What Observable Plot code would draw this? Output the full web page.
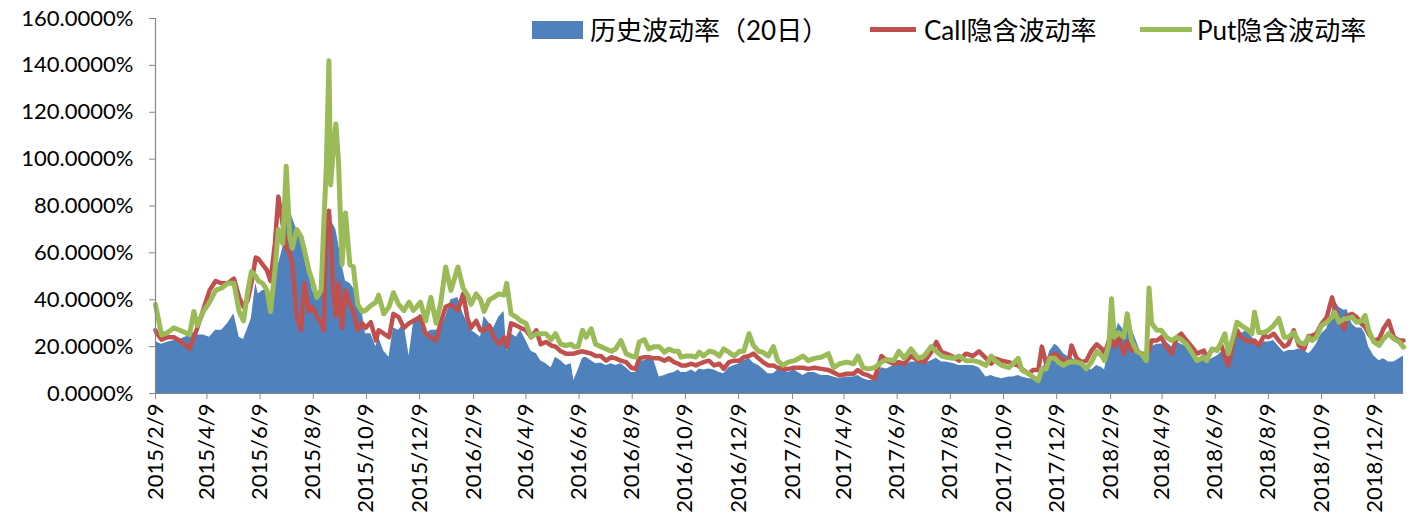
<!DOCTYPE html>
<html>
<head>
<meta charset="utf-8">
<script src="https://cdn.jsdelivr.net/npm/d3@7"></script>
<script src="https://cdn.jsdelivr.net/npm/@observablehq/plot@0.6"></script>
<style>
  html, body { margin: 0; padding: 0; background: #fff; }
  #wrap { position: relative; width: 1413px; height: 529px; overflow: hidden; font-family: Lato, "Noto Sans CJK SC", sans-serif; }
  .lg { position: absolute; }
  .lgt { position: absolute; top: 15px; font-size: 26px; line-height: 30px; color: #000; white-space: nowrap; }
</style>
</head>
<body>
<div id="wrap"></div>
<script>
// ---- data (values in %, days since 2015-02-09) ----
const seriesNames = ["历史波动率（20日）", "Call隐含波动率", "Put隐含波动率"];
const tickLabels = ["2015/2/9","2015/4/9","2015/6/9","2015/8/9","2015/10/9","2015/12/9",
  "2016/2/9","2016/4/9","2016/6/9","2016/8/9","2016/10/9","2016/12/9",
  "2017/2/9","2017/4/9","2017/6/9","2017/8/9","2017/10/9","2017/12/9",
  "2018/2/9","2018/4/9","2018/6/9","2018/8/9","2018/10/9","2018/12/9"];
const yTicks = [0, 20, 40, 60, 80, 100, 120, 140, 160];
const startDate = "2015/2/9";
const endDay = 1432;

const days = [
  0,1,7,14,21,28,34,39,44,48,55,62,69,76,83,90,96,101,106,110,115,
  118,123,128,132,137,141,146,150,154,157,162,167,171,176,180,185,190,193,196,199,201,204,207,210,214,218,223,227,232,237,
  241,247,253,256,262,268,273,279,285,291,296,304,310,316,322,327,333,339,347,353,
  358,362,368,373,377,383,388,394,400,403,408,414,419,425,431,437,442,448,454,459,465,471,
  477,480,485,490,494,500,505,511,517,523,528,534,540,546,551,555,561,566,572,578,584,589,595,
  600,603,609,615,620,624,629,635,641,647,652,658,664,670,675,681,686,692,697,703,709,714,720,
  726,733,743,749,756,764,772,778,785,793,801,806,812,818,825,833,839,
  847,853,859,867,875,882,890,896,902,907,916,922,930,938,945,953,
  959,963,971,979,984,990,994,1002,1007,1013,1017,1022,1026,1032,1036,1042,1048,1051,1057,1063,1068,1074,1080,
  1086,1089,1094,1097,1100,1105,1111,1115,1120,1126,1131,1137,1140,1143,1149,1154,1160,1166,1172,1177,1183,1189,1195,1203,
  1206,1212,1218,1223,1227,1231,1237,1241,1246,1252,1258,1261,1266,1272,1277,1283,1289,1295,1300,1306,1312,1318,
  1323,1327,1332,1338,1344,1350,1353,1358,1364,1367,1373,1378,1384,1388,1392,1398,1404,1409,1415,1421,1427,1432
];

const hist = [
  22,22,21,22,22.5,23,24,25,26,25,25,24,27,27,30,34,24,23,28,32,47,
  42.5,44,44,42.5,50,55,62,79.5,79.5,75,70,65,62,54,44,41,44,54,72,75,74,72,70,64,55,48,47,45,42.5,35,
  25.5,25.5,20,24,18,15.5,28,27,30,16,30,34,25.5,27,27,28,32.6,40,41,34,
  30,27,25.5,24,33,30,28,32.6,35,18,25.5,24,27,22.6,18,17,14,12.7,11,15.5,14,12,
  12.7,5.5,10,15,15.5,14,12.7,13,12,12.7,12,12.7,11,9,9,14,14,15,14,7,7.7,8.4,9,
  10,9,9,10,9,10.5,10,10.5,10,9,8.4,11,12,12.7,14,15,13,12,10.5,8.4,8.4,10,10,
  9,10,7.7,9,9,7.7,7.7,7,6.3,7,7,7.7,6.3,5.5,5.5,11,10.5,
  12,12.7,12,13.4,13.4,12.7,14,15,13.4,13.4,12.7,12,12,12,11,7,
  7.7,7,6.3,7,7,7.7,7,6.3,6.3,5.5,11,12.7,18,21,20,17,15.5,15,14,13.4,11,10,12,
  11,10,20,22,24,30,27,31,28,22,17,14,18,20,21,21,22,20,22,21,20,16,14,17,
  13.4,14.8,16,17.6,17.6,20,21,24,25.5,27,24,23,21,22,22,22.6,20,17.6,18.3,18.3,19,18.3,
  17,18.3,21,25.5,27.6,34.7,39.7,36.8,35.4,36,29.7,28,28,25.5,19.8,16,14,14.8,13.4,13.4,14.8,16
];

const call = [
  27,26,23,24,24,22.5,21,19,24,28,36,44,48,47,47,49,41,37,40,47,58,
  57.5,55,52.5,48,64,84,72,62,60,55,33,27,47,35,37,33,30,27,72,78,67,44,33,47,28,44,38,35,27,30,
  28,30.4,22.6,27,25.5,24,34,32.6,28,30,31,32.6,25.5,24,22.6,30,37,38,35.4,42.5,
  32,28,31,27,27,29,24,21,24,20,30,29,28,27,24,27,21,22,20.5,20,18,17,
  17,17,17.6,18,17.6,17,16,16,14,15.5,15,14,13.4,11,10.5,15,15.5,15.5,15,15,14,15,13.4,
  12.7,12,12,12.7,12,12.7,13.4,14,12,12.7,10.5,13.4,14,14,15.5,16,17,15,13.4,12,12,11,10.5,
  10.5,11,11,10.5,11,10.5,10,9,7.7,8.4,8.4,10,8.4,7.7,6.3,16,14,
  12.7,13.4,12.7,16,14,13.4,17.6,22,17.6,17,15.5,14,17,16,18,15,
  12.7,15,14,13.4,12.7,12,10.5,8.4,10,10,20,12.7,15.5,17,16,14,14,20.5,15,13.4,14,18.3,21,
  19,17,22.6,23,20,24,17,22,18.3,18.3,17,17,18.3,22.6,22.6,24,20,17,24,25.5,22.6,20,17,18.3,
  15.5,18.3,19,20.5,15.5,12,22.6,27,24,22.6,22,22.6,20.5,24.7,24,25.5,22.6,20,21,27,20.5,19,
  24.5,24.7,25.5,29.7,32.6,41,36.8,31,27.6,33,34,32.6,29.7,28.3,25.5,22.6,23.3,27.6,31,24,22.6,22.6
];

const put = [
  38,36,25,26,28,27,26,25,35,29,35,39,44,45,47,47,35,31,44,52,50,
  48,47,44,35,52.5,70,64,97,67,62,70,67,61,52.5,48,41,44,71,97,142,89,104,115,99,55,77,55,54,38,35,
  35.4,37.5,39,42,34,37,43,38,35.4,39,35.4,39,31,41,30,38,54,44,54,45,
  42,38,42.5,40,35,40,41,42.5,42,47,34,32.6,31,30,24,25.5,25.5,25.5,23,25.5,21,20.5,
  21,20,20,27,24,27.6,21,20,19,18,19,22.6,17,16,15.5,22,23,19,20,20,17.6,19,18,
  18,15.5,16,16,15.5,17.6,16,18,17.6,16,19,17.6,16,18,18,25.5,20.5,18,17.6,16,20,14,12,
  13.4,14,16,14,15,15.5,17,11,12.7,13.4,12.7,16,11,10.5,11,13.4,14.5,
  14,18,15,19,15,16,20,18,16,15.5,15,16,14,14,13.4,12,
  16,14,12,11,12.7,15,10,8.4,7,5.5,10.5,10.5,15,15,13.4,12,13.4,13.4,13.4,12.7,10.5,13.4,18,
  16,14,21,40.4,24,26,24,34,22.6,18,17,14,45,30,27,27,24,22.6,24,23,21,17.6,14,15.5,
  14,19,18.3,22,25.5,17,24.7,30.4,29,27.6,25.5,34.7,26,26,27,29,32,24,24,26,22,21,
  24,22.6,24,29,30.4,32.6,34.7,30.4,31.9,31.9,32.6,30.4,31,33.3,27,22,20.5,23.3,25.5,23.3,22,19.8
];

const colors = ["#4F81BD", "#C0504D", "#9BBB59"];

// ---- build ----
const parse = d3.utcParse("%Y/%m/%d");
const t0 = parse(startDate);
const dayMs = 864e5;
const data = days.map((d, i) => ({date: new Date(+t0 + d * dayMs), hist: hist[i], call: call[i], put: put[i]}));
const xTicks = tickLabels.map(parse);
const fmtX = d3.utcFormat("%Y/%-m/%-d");

const chart = Plot.plot({
  width: 1413,
  height: 529,
  marginLeft: 155,
  marginRight: 10,
  marginTop: 18,
  marginBottom: 136,
  style: {fontFamily: 'Lato, "Noto Sans CJK SC", sans-serif', fontSize: "22px", color: "#000", background: "#fff"},
  x: {type: "utc", domain: [t0, new Date(+t0 + endDay * dayMs)], label: null},
  y: {domain: [0, 160], label: null},
  marks: [
    Plot.areaY(data, {x: "date", y: "hist", fill: colors[0]}),
    Plot.lineY(data, {x: "date", y: "call", stroke: colors[1], strokeWidth: 4.5, strokeLinejoin: "round"}),
    Plot.lineY(data, {x: "date", y: "put", stroke: colors[2], strokeWidth: 5, strokeLinejoin: "round"}),
    Plot.ruleX([t0], {stroke: "#868686", strokeWidth: 1.2}),
    Plot.ruleY([0], {stroke: "#868686", strokeWidth: 1.2}),
    Plot.axisY(yTicks, {tickFormat: d => d.toFixed(4) + "%", tickSize: 6, tickPadding: 16, stroke: "#868686", fill: "#000", label: null}),
    Plot.axisX(xTicks, {tickFormat: fmtX, tickRotate: -90, tickSize: 6, tickPadding: 4, stroke: "#868686", fill: "#000", label: null})
  ]
});

const wrap = document.getElementById("wrap");
wrap.appendChild(chart);

// ---- legend (HTML, overlaid at top) ----
const legendItems = [
  {type: "rect", color: colors[0], sx: 532, sw: 51, tx: 590, label: seriesNames[0]},
  {type: "line", color: colors[1], sx: 870, sw: 46, tx: 924, label: seriesNames[1]},
  {type: "line", color: colors[2], sx: 1140, sw: 52, tx: 1197, label: seriesNames[2]}
];
legendItems.forEach(it => {
  const sw = document.createElement("div");
  sw.className = "lg";
  sw.style.left = it.sx + "px";
  sw.style.width = it.sw + "px";
  sw.style.background = it.color;
  if (it.type === "rect") { sw.style.top = "21px"; sw.style.height = "18px"; }
  else { sw.style.top = "27px"; sw.style.height = "5px"; }
  wrap.appendChild(sw);
  const tx = document.createElement("div");
  tx.className = "lgt";
  tx.style.left = it.tx + "px";
  tx.textContent = it.label;
  wrap.appendChild(tx);
});
</script>
</body>
</html>
